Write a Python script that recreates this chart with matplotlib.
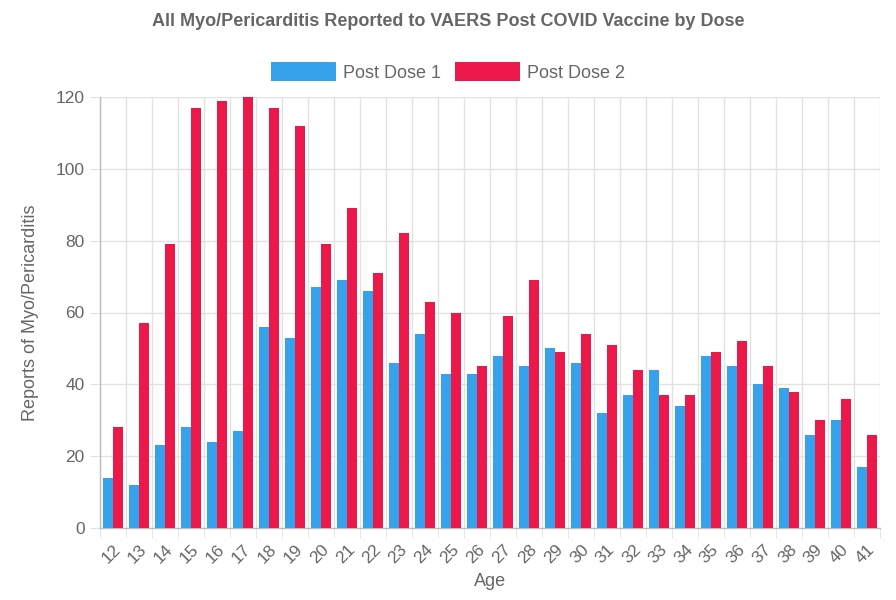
import matplotlib
matplotlib.use("Agg")
import matplotlib.pyplot as plt
import numpy as np

ages = [str(a) for a in range(12, 42)]
dose1 = [14, 12, 23, 28, 24, 27, 56, 53, 67, 69, 66, 46, 54, 43, 43, 48, 45, 50, 46, 32,
         37, 44, 34, 48, 45, 40, 39, 26, 30, 17]
dose2 = [28, 57, 79, 117, 119, 120, 117, 112, 79, 89, 71, 82, 63, 60, 45, 59, 69, 49, 54, 51,
         44, 37, 37, 49, 52, 45, 38, 30, 36, 26]

plt.rcParams['font.family'] = ['Arial', 'Liberation Sans', 'DejaVu Sans']
TXT = '#666666'
BLUE = '#36A2EB'
RED = '#EB1849'

fig = plt.figure(figsize=(8.96, 6.0), dpi=100)
ax = fig.add_axes([100/896, 72/600, 780/896, 431/600])

x = np.arange(len(ages))
w = 0.37
ax.bar(x - 0.195, dose1, width=w, color=BLUE, label='Post Dose 1', zorder=3)
ax.bar(x + 0.195, dose2, width=w, color=RED, label='Post Dose 2', zorder=3)

ax.set_xlim(-0.5, len(ages) - 0.5)
ax.set_ylim(0, 120)
ax.set_yticks(range(0, 121, 20))
ax.set_xticks(x)
ax.set_xticklabels(ages, rotation=45, ha='right', rotation_mode='anchor')
ax.set_xticks(np.arange(-0.5, len(ages)), minor=True)
ax.grid(False)
ax.grid(True, axis='y', which='major', color='#e2e2e2', lw=1, zorder=0)
ax.grid(True, axis='x', which='minor', color='#e2e2e2', lw=1, zorder=0)
ax.tick_params(axis='x', which='major', length=0, labelsize=12.5, colors=TXT, pad=10)
ax.tick_params(axis='x', which='minor', length=7, color='#e2e2e2')
ax.tick_params(axis='y', length=7, color='#e2e2e2', labelsize=12.5, labelcolor=TXT, pad=4)
for s in ['top', 'right']:
    ax.spines[s].set_visible(False)
for s in ['left', 'bottom']:
    ax.spines[s].set_color('#bdbdbd')
    ax.spines[s].set_linewidth(1)

ax.set_xlabel('Age', fontsize=13, color=TXT, labelpad=5)
ax.set_ylabel('Reports of Myo/Pericarditis', fontsize=13, color=TXT, labelpad=12)

fig.text(0.5, 1 - 22/600, 'All Myo/Pericarditis Reported to VAERS Post COVID Vaccine by Dose',
         ha='center', va='center', fontsize=13, fontweight='bold', color=TXT)

leg = fig.legend(loc='center', bbox_to_anchor=(0.5, 1 - 72/600), ncol=2, frameon=False,
                 fontsize=13, handlelength=3.6, handleheight=1.25, handletextpad=0.4,
                 columnspacing=0.8)
for t in leg.get_texts():
    t.set_color(TXT)

fig.savefig('out.png', dpi=100)
